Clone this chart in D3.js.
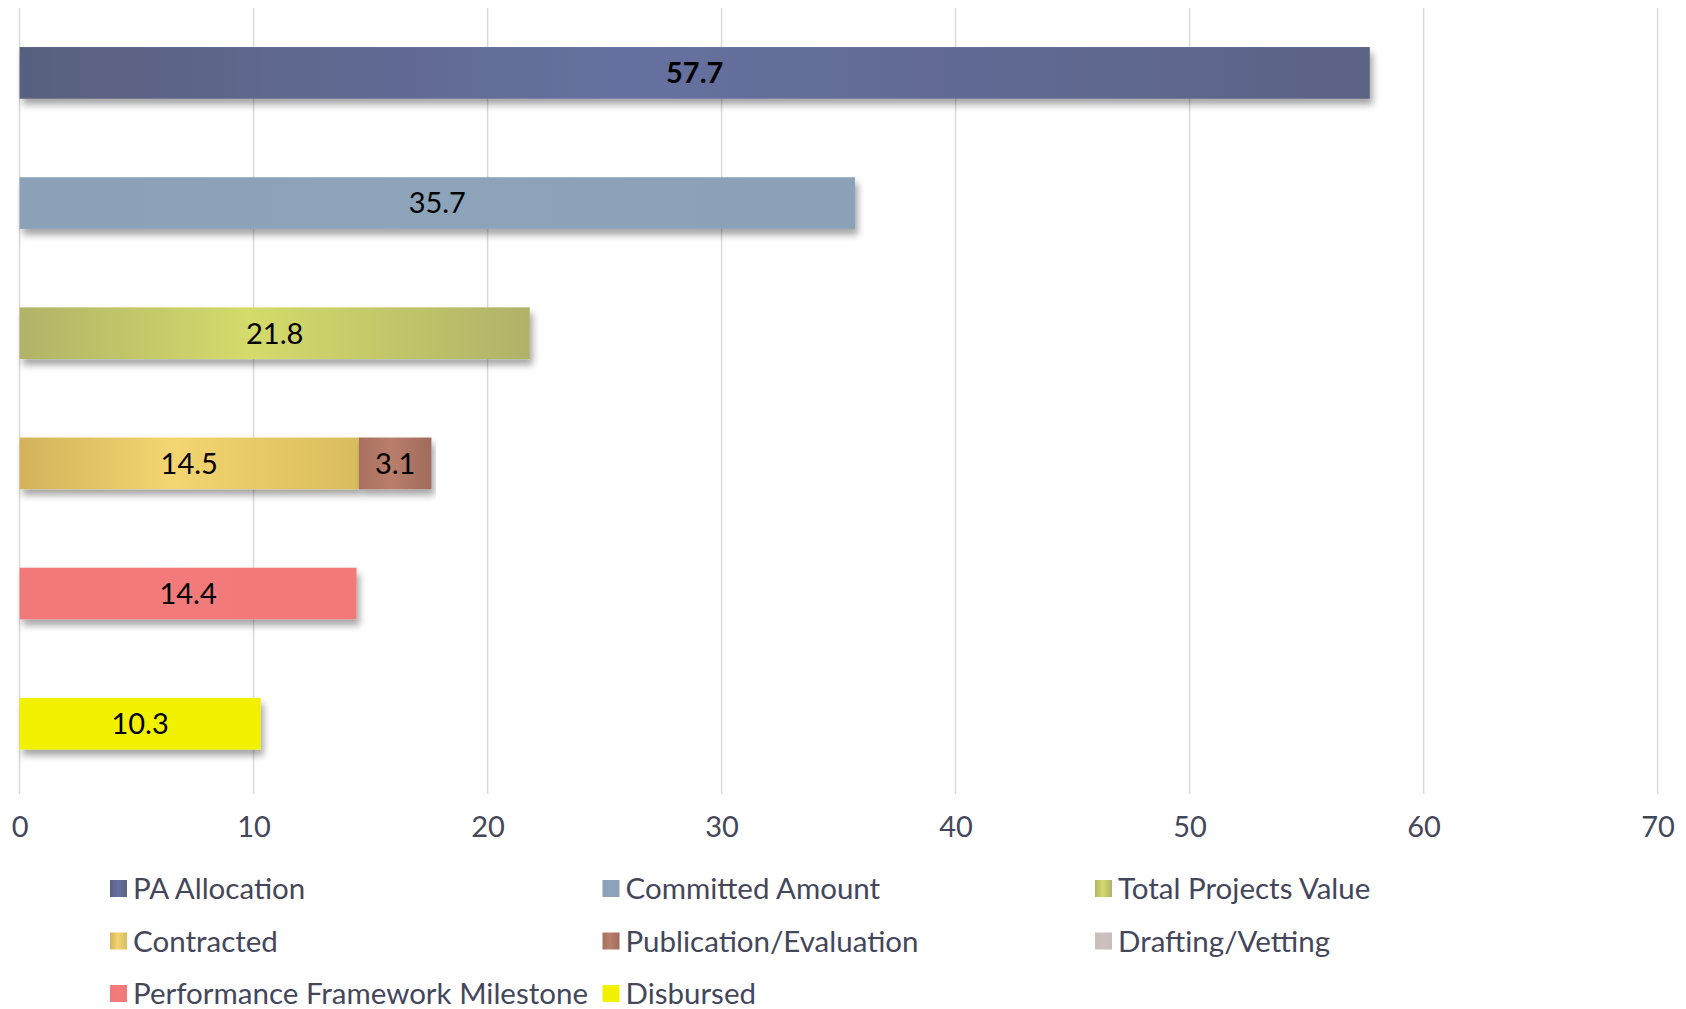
<!DOCTYPE html>
<html>
<head>
<meta charset="utf-8">
<script src="https://cdn.jsdelivr.net/npm/d3@7"></script>
<style>
    html, body { margin: 0; padding: 0; background: #fff; }
    svg { display: block; font-family: "Lato", "Open Sans", sans-serif; }
</style>
</head>
<body>
<div id="chart"></div>
<script>
// rows of the chart, top to bottom
const rows = ["allocation", "committed", "projects", "contracting", "milestone", "disbursed"];

// series, one value per row
const seriesNames = [
    "PA Allocation", "Committed Amount", "Total Projects Value",
    "Contracted", "Publication/Evaluation", "Drafting/Vetting",
    "Performance Framework Milestone", "Disbursed"
];
const seriesValues = [
    [57.7, 0, 0, 0, 0, 0],
    [0, 35.7, 0, 0, 0, 0],
    [0, 0, 21.8, 0, 0, 0],
    [0, 0, 0, 14.5, 0, 0],
    [0, 0, 0, 3.1, 0, 0],
    [0, 0, 0, 0, 0, 0],
    [0, 0, 0, 0, 14.4, 0],
    [0, 0, 0, 0, 0, 10.3]
];
const xTicks = [0, 10, 20, 30, 40, 50, 60, 70];

// gradient stops per series (left, middle, right)
const seriesColors = [
    ["#59617f", "#6670a0", "#5b6385"],
    ["#8aa1b7", "#8ca3b9", "#8aa1b7"],
    ["#b1b368", "#d4db6b", "#b0b268"],
    ["#d2b35b", "#f3d570", "#d9bc5e"],
    ["#a9705f", "#b97e6c", "#a06b5c"],
    ["#c8bdb9", "#cbc1bd", "#c8bdb9"],
    ["#f2797a", "#f27a7a", "#f2797a"],
    ["#f2f200", "#f2f200", "#f2f200"]
];

const width = 1686;
const height = 1009;

const svg = d3.select("#chart")
    .append("svg")
    .attr("width", width)
    .attr("height", height);

const defs = svg.append("defs");

const shadow = defs.append("filter")
    .attr("id", "shadow")
    .attr("x", "-5%").attr("y", "-20%")
    .attr("width", "110%").attr("height", "160%");
shadow.append("feDropShadow")
    .attr("dx", 3).attr("dy", 6)
    .attr("stdDeviation", 3.5)
    .attr("flood-color", "#000")
    .attr("flood-opacity", 0.35);

seriesColors.forEach((c, i) => {
    const g = defs.append("linearGradient")
        .attr("id", "grad" + i)
        .attr("x1", "0%").attr("y1", "0%")
        .attr("x2", "100%").attr("y2", "0%");
    g.append("stop").attr("offset", "0%").attr("stop-color", c[0]);
    g.append("stop").attr("offset", "45%").attr("stop-color", c[1]);
    g.append("stop").attr("offset", "100%").attr("stop-color", c[2]);
});

const x = d3.scaleLinear()
    .domain([0, 70])
    .range([19.6, 1657.6]);

const y = d3.scaleBand()
    .domain(rows)
    .range([8, 788.6])
    .paddingInner(0.603)
    .paddingOuter(0.3);

// gridlines
svg.append("g")
    .selectAll("line")
    .data(xTicks)
    .join("line")
    .attr("x1", d => x(d)).attr("x2", d => x(d))
    .attr("y1", 8).attr("y2", 794)
    .attr("stroke", "#d9d9d9")
    .attr("stroke-width", 1.5);

// axis labels
const axis = svg.append("g")
    .attr("transform", "translate(0,794)")
    .call(d3.axisBottom(x).tickValues(xTicks).tickSize(0).tickPadding(22));
axis.select(".domain").remove();
axis.selectAll("text")
    .attr("font-family", "Lato, sans-serif")
    .attr("font-size", 29)
    .attr("fill", "#44465a");

// stacked bars
const table = rows.map((r, j) => {
    const o = { row: r };
    seriesNames.forEach((s, i) => { o[s] = seriesValues[i][j]; });
    return o;
});
const stacked = d3.stack().keys(seriesNames)(table);

const layers = svg.append("g")
    .selectAll("g")
    .data(stacked)
    .join("g");

layers.selectAll("rect")
    .data((d, i) => d.filter(p => p[1] - p[0] > 0).map(p => ({ p, i })))
    .join("rect")
    .attr("x", d => x(d.p[0]))
    .attr("y", d => y(d.p.data.row))
    .attr("width", d => x(d.p[1]) - x(d.p[0]))
    .attr("height", y.bandwidth())
    .attr("fill", d => `url(#grad${d.i})`)
    .attr("filter", "url(#shadow)");

layers.selectAll("text")
    .data((d, i) => d.filter(p => p[1] - p[0] > 0).map(p => ({ p, i })))
    .join("text")
    .attr("x", d => (x(d.p[0]) + x(d.p[1])) / 2)
    .attr("y", d => y(d.p.data.row) + y.bandwidth() / 2)
    .attr("dy", "0.36em")
    .attr("text-anchor", "middle")
    .attr("font-size", 29)
    .attr("font-weight", d => d.i === 0 ? "bold" : "normal")
    .attr("fill", "#000")
    .text(d => d3.format(".1f")(d.p[1] - d.p[0]));

// legend, three columns
const legend = svg.append("g")
    .selectAll("g")
    .data(seriesNames)
    .join("g")
    .attr("transform", (d, i) => `translate(${110 + (i % 3) * 492.5},${889 + Math.floor(i / 3) * 52.5})`);

legend.append("rect")
    .attr("x", 0).attr("y", -9)
    .attr("width", 17).attr("height", 17)
    .attr("fill", (d, i) => `url(#grad${i})`);

legend.append("text")
    .attr("x", 23)
    .attr("dy", "0.35em")
    .attr("font-size", 29.5)
    .attr("fill", "#44465a")
    .text(d => d);
</script>
</body>
</html>
